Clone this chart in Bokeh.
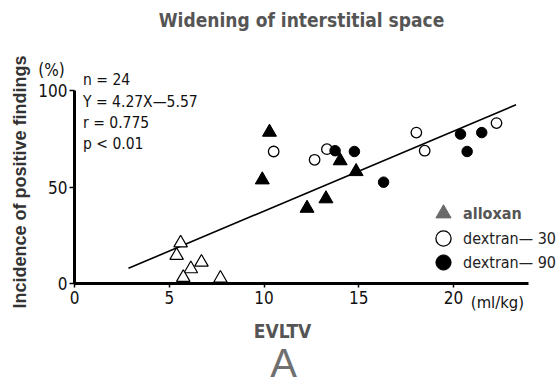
import math
from bokeh.plotting import figure
from bokeh.models import Range1d, FixedTicker, Label, Legend, LegendItem
from bokeh.embed import file_html
from bokeh.resources import INLINE

# ---- data ----
control_x = [5.60, 5.39, 6.70, 6.14, 5.74, 7.70]
control_y = [21.0, 14.5, 11.0, 7.6, 3.1, 2.7]

alloxan_x = [10.29, 9.91, 12.27, 13.27, 14.02, 14.86]
alloxan_y = [78.4, 53.7, 39.0, 43.9, 63.6, 58.0]

dex30_x = [10.51, 12.67, 13.32, 18.04, 18.48, 22.27]
dex30_y = [68.4, 64.1, 69.6, 78.2, 68.8, 83.1]

dex90_x = [13.75, 14.77, 16.31, 20.37, 20.72, 21.49]
dex90_y = [68.8, 68.4, 52.5, 77.4, 68.4, 78.2]

fit_x = [2.85, 23.3]
fit_y = [7.9, 92.6]

x_ticks = [0, 5, 10, 15, 20]
y_ticks = [0, 50, 100]
stats_lines = ["n = 24", "Y = 4.27X\u20145.57", "r = 0.775", "p < 0.01"]

NARROW = "'Liberation Sans Narrow', 'DejaVu Sans Condensed', 'Arial Narrow', sans-serif"
SANS = "'Liberation Sans', Arial, sans-serif"

# frame spans the whole canvas; axes are drawn at fixed data locations
PX_X = 18.95   # pixels per ml/kg
PX_Y = 1.93    # pixels per %
W, H = 560, 387
X0_PX, Y0_PX = 74, 283

p = figure(width=W, height=H, output_backend="svg", toolbar_location=None, title=None,
           x_range=Range1d(-X0_PX / PX_X, (W - X0_PX) / PX_X),
           y_range=Range1d(-(H - Y0_PX) / PX_Y, Y0_PX / PX_Y),
           min_border=0, min_border_left=0, min_border_right=0,
           min_border_top=0, min_border_bottom=0)
p.outline_line_color = None
p.grid.visible = False
p.background_fill_color = "white"
p.border_fill_color = "white"

for ax in (p.xaxis[0], p.yaxis[0]):
    ax.fixed_location = 0
    ax.axis_line_width = 3
    ax.axis_line_color = "black"
    ax.major_tick_line_width = 1.5
    ax.major_tick_line_color = "black"
    ax.minor_tick_line_color = None
    ax.major_tick_in = 0
    ax.major_label_text_font = NARROW
    ax.major_label_text_color = "#111111"
    ax.major_label_text_font_size = "17px"

p.xaxis.ticker = FixedTicker(ticks=x_ticks)
p.xaxis.major_tick_out = 4
p.xaxis.major_label_standoff = 3
p.xaxis.bounds = (0, 23.96)
p.yaxis.ticker = FixedTicker(ticks=y_ticks)
p.yaxis.major_tick_out = 5
p.yaxis.major_label_standoff = 2
p.yaxis.bounds = (0, 100)

# regression line
p.line(fit_x, fit_y, line_color="black", line_width=1.6)

# points
p.scatter(control_x, control_y, marker="triangle", size=13.5, fill_color="white",
          line_color="black", line_width=1.2)
# gray copy (hidden under the black triangles) that gives the legend its gray swatch
r_all_key = p.scatter(alloxan_x, alloxan_y, marker="triangle", size=12, fill_color="#6a6a6a",
                      line_color="#6a6a6a")
p.scatter(alloxan_x, alloxan_y, marker="triangle", size=14, fill_color="black",
          line_color="black")
r_d30 = p.scatter(dex30_x, dex30_y, marker="circle", size=10.5, fill_color="white",
                  line_color="black", line_width=1.3)
r_d90 = p.scatter(dex90_x, dex90_y, marker="circle", size=10.5, fill_color="black",
                  line_color="black")

# legend: one small legend per entry so each row can be placed and styled
legend_specs = [("alloxan", r_all_key, 155, "#555555", "bold"),
                ("dextran\u2014 30", r_d30, 130, "#222222", "normal"),
                ("dextran\u2014 90", r_d90, 106, "#222222", "normal")]
for lab, rend, ly, col, style in legend_specs:
    lg = Legend(items=[LegendItem(label=lab, renderers=[rend])],
                location=(424, ly), glyph_width=38, glyph_height=38, spacing=0,
                label_standoff=1, padding=0, margin=0, border_line_color=None,
                background_fill_alpha=0, label_text_font=NARROW,
                label_text_font_size="16px", label_text_color=col,
                label_text_font_style=style)
    p.add_layout(lg)

# statistics text
stats_y = [105.2, 94.3, 83.4, 72.5]
for t, yy in zip(stats_lines, stats_y):
    p.add_layout(Label(x=0.45, y=yy, text=t, text_font=NARROW, text_font_size="15.5px",
                       text_color="#111111", text_baseline="middle", text_align="left"))

# other texts
p.add_layout(Label(x=11.98, y=136.3, text="Widening of interstitial space", text_font=NARROW,
                   text_font_style="bold", text_font_size="19px", text_color="#555555",
                   text_align="center", text_baseline="middle"))
p.add_layout(Label(x=-2.9, y=52.6, text="Incidence of positive findings", text_font=SANS,
                   text_font_style="bold", text_font_size="18px", text_color="#333333",
                   text_align="center", text_baseline="middle", angle=math.pi / 2))
p.add_layout(Label(x=-1.21, y=110.4, text="(%)", text_font=NARROW, text_font_size="17px",
                   text_color="#111111", text_align="center", text_baseline="middle"))
p.add_layout(Label(x=22.32, y=-9.8, text="(ml/kg)", text_font=NARROW, text_font_size="16.5px",
                   text_color="#111111", text_align="center", text_baseline="middle"))
p.add_layout(Label(x=10.98, y=-24.4, text="EVLTV", text_font=NARROW, text_font_style="bold",
                   text_font_size="19px", text_color="#555555", text_align="center",
                   text_baseline="middle"))
p.add_layout(Label(x=11.03, y=-41.0, text="A", text_font=SANS,
                   text_font_size="40px", text_color="#707070", text_align="center",
                   text_baseline="middle"))

open("out.html", "w").write(file_html(p, INLINE))
